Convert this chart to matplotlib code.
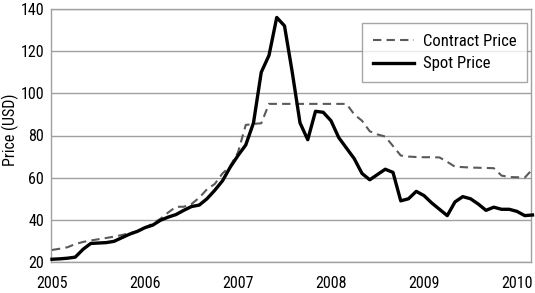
import matplotlib
matplotlib.use("Agg")
import matplotlib.pyplot as plt
import numpy as np

# Monthly data, Jan 2005 .. Mar 2010 (month index 0..62)
spot_price = [21.3, 21.5, 21.8, 22.3, 26.0, 28.8, 29.0, 29.2, 29.8, 31.5,
              33.2, 34.5, 36.3, 37.5, 39.8, 41.3, 42.5, 44.5, 46.3, 47.0,
              50.0, 54.0, 58.5, 65.0, 70.5, 75.5, 86.0, 110.0, 118.0, 136.0,
              132.0, 110.0, 86.0, 78.0, 91.5, 91.0, 87.0, 79.0, 74.0, 69.0,
              62.0, 59.0, 61.5, 64.0, 62.5, 49.0, 50.0, 53.5, 51.5, 48.0,
              45.0, 42.0, 48.5, 51.0, 50.0, 47.5, 44.5, 46.0, 45.0, 45.0,
              44.0, 42.0, 42.3]
contract_price = [25.7, 26.3, 27.0, 28.5, 29.5, 30.2, 30.8, 31.4, 32.0, 32.8,
                  33.6, 34.6, 36.2, 38.3, 40.5, 43.5, 46.2, 46.2, 47.5, 50.5,
                  54.5, 57.0, 62.0, 65.5, 72.0, 85.0, 85.5, 85.8, 95.0, 95.0,
                  95.0, 95.0, 95.0, 95.0, 95.0, 95.0, 95.0, 95.0, 95.0, 90.0,
                  87.0, 82.0, 80.5, 79.5, 75.0, 70.5, 70.0, 69.8, 69.7, 69.7,
                  69.6, 67.5, 65.2, 65.0, 64.8, 64.7, 64.6, 64.5, 61.0, 60.3,
                  60.2, 60.0, 64.0]
start_year = 2005
x_ticks = [2005, 2006, 2007, 2008, 2009, 2010]
y_ticks = [20, 40, 60, 80, 100, 120, 140]

x = start_year + np.arange(len(spot_price)) / 12.0

font = ['Roboto Condensed', 'Archivo Narrow', 'DejaVu Sans']
plt.rcParams['font.family'] = font

W, H = 535, 293
fig = plt.figure(figsize=(W / 100, H / 100), dpi=100)
ax = fig.add_axes([51 / W, (H - 262) / H, (531 - 51) / W, (262 - 9) / H])

ax.plot(x, contract_price, color='#5a5a5a', lw=1.5, dashes=(4, 2.5),
        label='Contract Price', clip_on=False, zorder=3)
ax.plot(x, spot_price, color='black', lw=2.4, label='Spot Price',
        clip_on=False, zorder=4)

ax.set_xlim(2005 - 1 / 93, 2005 + (531 - 52) / 93)
ax.set_ylim(20, 140)
ax.set_xticks(x_ticks)
ax.set_yticks(y_ticks)
ax.yaxis.grid(True, color='#a0a0a0', lw=1.0)
ax.set_axisbelow(True)
for s in ax.spines.values():
    s.set_color('#a0a0a0')
    s.set_linewidth(1.0)
ax.tick_params(axis='both', length=0, labelsize=11.5)
ax.tick_params(axis='x', pad=10)
ax.tick_params(axis='y', pad=5)

fig.text(10 / W, 1 - 130 / H, 'Price (USD)', rotation=90, ha='center',
         va='center', fontsize=11.5)

leg = ax.legend(loc='upper right', bbox_to_anchor=((527 - 51) / 480, (262 - 23) / 253),
                borderaxespad=0, frameon=True, fancybox=False, borderpad=0.65,
                handlelength=2.5, handletextpad=0.5, labelspacing=0.45,
                prop={'size': 12})
leg.get_frame().set_edgecolor('#909090')
leg.get_frame().set_linewidth(1.0)

fig.savefig('out.png', dpi=100)
